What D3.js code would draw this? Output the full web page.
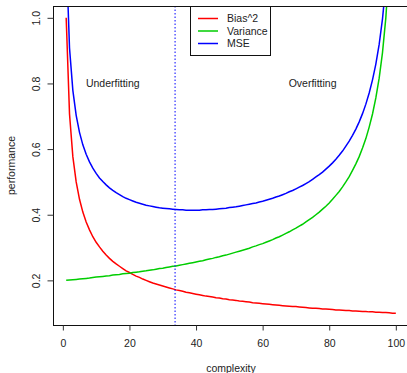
<!DOCTYPE html>
<html>
<head>
<meta charset="utf-8">
<script src="https://d3js.org/d3.v7.min.js"></script>
<style>
  body { margin: 0; background: #fff; }
  text { font-family: "Liberation Sans", Arial, sans-serif; font-size: 10.5px; fill: #222; }
</style>
</head>
<body>
<svg width="407" height="373"></svg>
<script>

// model complexity, 1..100
var complexity = [1,2,3,4,5,6,7,8,9,10,11,12,13,14,15,16,17,18,19,20,
  21,22,23,24,25,26,27,28,29,30,31,32,33,34,35,36,37,38,39,40,
  41,42,43,44,45,46,47,48,49,50,51,52,53,54,55,56,57,58,59,60,
  61,62,63,64,65,66,67,68,69,70,71,72,73,74,75,76,77,78,79,80,
  81,82,83,84,85,86,87,88,89,90,91,92,93,94,95,96,97,98,99,100];

var bias2 = [1.000,.707,.577,.500,.447,.408,.378,.354,.333,.316,
  .302,.289,.277,.267,.258,.250,.243,.236,.229,.224,
  .218,.213,.209,.204,.200,.196,.192,.189,.186,.183,
  .180,.177,.174,.171,.169,.167,.164,.162,.160,.158,
  .156,.154,.152,.151,.149,.147,.146,.144,.143,.141,
  .140,.139,.137,.136,.135,.134,.132,.131,.130,.129,
  .128,.127,.126,.125,.124,.123,.122,.121,.120,.120,
  .119,.118,.117,.116,.115,.115,.114,.113,.113,.112,
  .111,.110,.110,.109,.108,.108,.107,.107,.106,.105,
  .105,.104,.104,.103,.103,.102,.102,.101,.100,.100];

var variance = [.200,.201,.202,.203,.204,.205,.206,.207,.209,.210,
  .211,.212,.213,.214,.216,.217,.218,.220,.221,.222,
  .224,.225,.226,.228,.229,.231,.232,.234,.236,.237,
  .239,.241,.243,.244,.246,.248,.250,.252,.254,.256,
  .258,.260,.263,.265,.267,.270,.272,.275,.277,.280,
  .283,.286,.289,.292,.295,.298,.302,.305,.309,.312,
  .316,.320,.324,.329,.333,.338,.343,.348,.354,.359,
  .365,.371,.378,.385,.392,.400,.408,.417,.426,.436,
  .447,.459,.471,.485,.500,.516,.535,.555,.577,.603,
  .632,.667,.707,.756,.816,.894,1.000,1.155,1.414,2.000];

var mse = [1.200,.908,.779,.703,.651,.613,.584,.561,.542,.526,
  .512,.501,.491,.482,.474,.467,.461,.455,.450,.446,
  .442,.438,.435,.432,.429,.427,.425,.423,.421,.420,
  .419,.418,.417,.416,.415,.415,.414,.414,.414,.414,
  .414,.415,.415,.416,.416,.417,.418,.419,.420,.422,
  .423,.424,.426,.428,.430,.432,.434,.436,.439,.441,
  .444,.447,.450,.454,.457,.461,.465,.470,.474,.479,
  .484,.489,.495,.501,.508,.515,.522,.530,.539,.548,
  .558,.569,.581,.594,.609,.624,.642,.661,.683,.708,
  .737,.771,.811,.859,.919,.997,1.102,1.256,1.515,2.100];

var xTicks = [0, 20, 40, 60, 80, 100];
var yTicks = [0.2, 0.4, 0.6, 0.8, 1.0];
var cutoff = 33.7;   // dotted vertical line
var seriesNames = ["Bias^2", "Variance", "MSE"];
var seriesColors = ["#ff0000", "#00cd00", "#0000ff"];
var notes = [{x: 15, y: 0.8, label: "Underfitting"}, {x: 75, y: 0.8, label: "Overfitting"}];

var svg = d3.select("svg");

var pLeft = 53, pRight = 409, pTop = 6, pBottom = 325;

// R style 4% padding around xlim / ylim
var x = d3.scaleLinear().domain([1 - 3.96, 100 + 3.96]).range([pLeft, pRight]);
var y = d3.scaleLinear().domain([0.1 - 0.036, 1.0 + 0.036]).range([pBottom, pTop]);

svg.append("clipPath").attr("id", "plotclip")
  .append("rect")
    .attr("x", pLeft).attr("y", pTop)
    .attr("width", pRight - pLeft).attr("height", pBottom - pTop);

var plot = svg.append("g").attr("clip-path", "url(#plotclip)");

var series = [bias2, variance, mse];
var line = d3.line()
  .x(function(d, i) { return x(complexity[i]); })
  .y(function(d) { return y(d); });

series.forEach(function(s, k) {
  plot.append("path")
    .datum(s)
    .attr("d", line)
    .attr("fill", "none")
    .attr("stroke", seriesColors[k])
    .attr("stroke-width", 1.5);
});

plot.append("line")
  .attr("x1", x(cutoff)).attr("x2", x(cutoff))
  .attr("y1", pTop).attr("y2", pBottom)
  .attr("stroke", "#0000ff")
  .attr("stroke-width", 1)
  .attr("stroke-dasharray", "1.5,2");

// labels in the plot
svg.selectAll(".note")
  .data(notes)
  .enter().append("text")
    .attr("class", "note")
    .attr("x", function(d) { return x(d.x); })
    .attr("y", function(d) { return y(d.y) + 3.8; })
    .attr("text-anchor", "middle")
    .text(function(d) { return d.label; });

// box
svg.append("rect")
  .attr("x", pLeft + 0.5).attr("y", pTop + 0.5)
  .attr("width", pRight - pLeft).attr("height", pBottom - pTop)
  .attr("fill", "none")
  .attr("stroke", "#111")
  .attr("stroke-width", 1);

// axes
var xAxis = d3.axisBottom(x).tickValues(xTicks).tickSize(5).tickPadding(9).tickFormat(d3.format("d"));
var gx = svg.append("g")
  .attr("transform", "translate(0," + (pBottom + 0.5) + ")")
  .call(xAxis);
gx.select(".domain").remove();
gx.selectAll("line").attr("stroke", "#333");
gx.selectAll("text").style("font-size", "10.5px").style("font-family", "Liberation Sans, Arial, sans-serif").attr("fill", "#222");

var yAxis = d3.axisLeft(y).tickValues(yTicks).tickSize(6).tickFormat(d3.format(".1f"));
var gy = svg.append("g")
  .attr("transform", "translate(" + (pLeft + 0.5) + ",0)")
  .call(yAxis);
gy.select(".domain").remove();
gy.selectAll("line").attr("stroke", "#333");
gy.selectAll("text")
  .attr("x", 0).attr("dy", 0)
  .attr("transform", "translate(-14,0) rotate(-90)")
  .attr("text-anchor", "middle")
  .style("font-size", "10.5px").style("font-family", "Liberation Sans, Arial, sans-serif").attr("fill", "#222");

svg.append("text")
  .attr("x", (pLeft + pRight) / 2)
  .attr("y", 372)
  .attr("text-anchor", "middle")
  .text("complexity");

svg.append("text")
  .attr("transform", "translate(14.5," + ((pTop + pBottom) / 2) + ") rotate(-90)")
  .attr("text-anchor", "middle")
  .text("performance");

// legend
var legend = svg.append("g");
legend.append("rect")
  .attr("x", 190.5).attr("y", pTop + 0.5)
  .attr("width", 80).attr("height", 49)
  .attr("fill", "#fff")
  .attr("stroke", "#111");

var rowY = [18.5, 31, 43.5];
seriesNames.forEach(function(name, k) {
  legend.append("line")
    .attr("x1", 198).attr("x2", 218)
    .attr("y1", rowY[k]).attr("y2", rowY[k])
    .attr("stroke", seriesColors[k])
    .attr("stroke-width", 1.5);
  legend.append("text")
    .attr("x", 227)
    .attr("y", rowY[k] + 3.8)
    .text(name);
});

</script>
</body>
</html>
